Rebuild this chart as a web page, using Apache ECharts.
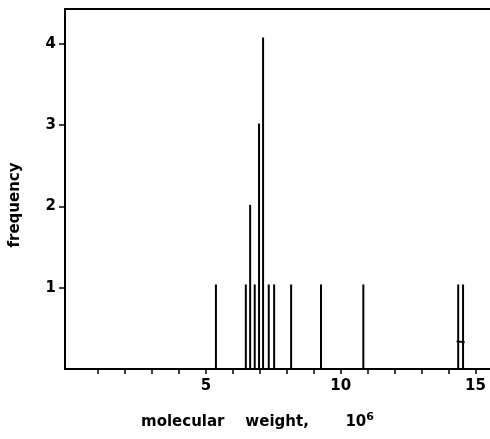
<!DOCTYPE html>
<html>
<head>
<meta charset="utf-8">
<script src="https://cdn.jsdelivr.net/npm/echarts@6/dist/echarts.min.js"></script>
<style>html,body{margin:0;padding:0;background:#fff;}#c{width:490px;height:439px;}</style>
</head>
<body>
<div id="c"></div>
<script>
// molecular weight (10^6) of each observed value and its frequency bar height
const weights = [5.37, 6.48, 6.64, 6.81, 6.97, 7.12, 7.33, 7.53, 8.16, 9.27, 10.84, 14.36, 14.54];
const freqs   = [1.04, 1.04, 2.02, 1.04, 3.02, 4.08, 1.04, 1.04, 1.04, 1.04, 1.04, 1.04, 1.04];
// small connecting mark between the two high-weight lines
const markX = [14.30, 14.60];
const markY = [0.34, 0.33];
const xTicks = [1,2,3,4,5,6,7,8,9,10,11,12,13,14,15];
const xLabels = [5, 10, 15];
const yTicks = [1, 2, 3, 4];
const yLabels = [1, 2, 3, 4];

const chart = echarts.init(document.getElementById('c'));
const font = 'DejaVu Sans';
chart.setOption({
  animation: false,
  backgroundColor: '#fff',
  grid: { left: 65, top: 9, right: 0, bottom: 70, show: false },
  xAxis: [{
    type: 'value', min: -0.23, max: 15.54, position: 'bottom',
    splitLine: { show: false },
    axisLine: { show: true, onZero: false, lineStyle: { color: '#000', width: 2 } },
    axisTick: { show: true, customValues: xTicks, length: 5, lineStyle: { color: '#000', width: 1.5 } },
    axisLabel: { customValues: xLabels, color: '#000', fontFamily: font, fontSize: 15, fontWeight: 'bold', margin: 10 }
  }, {
    type: 'value', min: -0.23, max: 15.54, position: 'top',
    splitLine: { show: false },
    axisLine: { show: true, onZero: false, lineStyle: { color: '#000', width: 2 } },
    axisTick: { show: false }, axisLabel: { show: false }
  }],
  yAxis: {
    type: 'value', min: 0, max: 4.43,
    splitLine: { show: false },
    axisLine: { show: true, onZero: false, lineStyle: { color: '#000', width: 2 } },
    axisTick: { show: true, customValues: yTicks, length: 6, lineStyle: { color: '#000', width: 1.5 } },
    axisLabel: { customValues: yLabels, color: '#000', fontFamily: font, fontSize: 15, fontWeight: 'bold', margin: 9 }
  },
  graphic: [
    { type: 'text', left: 141, top: 412, style: {
        rich: { b: { fontFamily: font, fontSize: 15, fontWeight: 'bold', fill: '#000' },
                s: { fontFamily: font, fontSize: 11, fontWeight: 'bold', fill: '#000', verticalAlign: 'top', padding: [0,0,10,0] } },
        text: '{b|molecular    weight,       10}{s|6}', fill: '#000' } },
    { type: 'text', x: 15, y: 205, rotation: Math.PI / 2, style: {
        text: 'frequency', fontFamily: font, fontSize: 15, fontWeight: 'bold', fill: '#000', align: 'center', verticalAlign: 'middle' } }
  ],
  series: [
    { type: 'bar', barWidth: 2, itemStyle: { color: '#000' }, silent: true,
      data: weights.map((w, i) => [w, freqs[i]]) },
    { type: 'line', symbol: 'none', silent: true, lineStyle: { color: '#000', width: 2 },
      data: markX.map((x, i) => [x, markY[i]]) }
  ]
});
</script>
</body>
</html>
